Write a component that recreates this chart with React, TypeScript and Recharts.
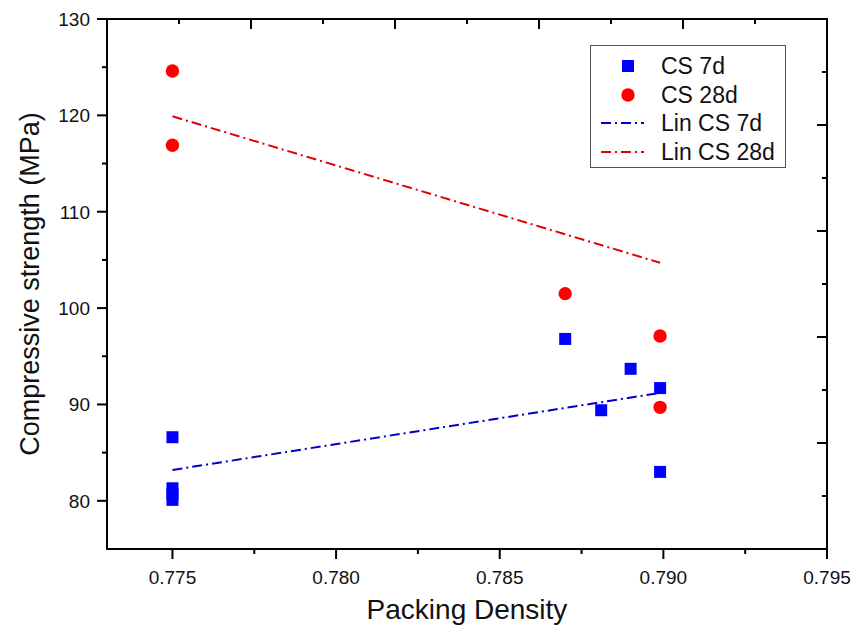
import React from 'react';
import { ComposedChart, Scatter, Line, XAxis, YAxis, ReferenceArea } from 'recharts';

const FONT = '"Liberation Sans", Arial, Helvetica, sans-serif';

// CS 7d (blue squares)
const cs7dX = [0.775, 0.775, 0.775, 0.775, 0.787, 0.7881, 0.789, 0.7899, 0.7899];
const cs7dY = [86.6, 81.3, 80.7, 80.1, 96.8, 89.4, 93.7, 91.7, 83.0];
// CS 28d (red circles)
const cs28dX = [0.775, 0.775, 0.787, 0.7899, 0.7899];
const cs28dY = [124.6, 116.9, 101.5, 97.1, 89.7];
// Linear fits
const lin7dX = [0.775, 0.7899];
const lin7dY = [83.2, 91.2];
const lin28dX = [0.775, 0.7899];
const lin28dY = [119.9, 104.7];

const seriesNames = ['CS 7d', 'CS 28d', 'Lin CS 7d', 'Lin CS 28d'];

const xDomain = [0.773, 0.795];
const yDomain = [75, 130];
const xMajorTicks = [0.775, 0.78, 0.785, 0.79, 0.795];
const xTickLabels = ['0.775', '0.780', '0.785', '0.790', '0.795'];
const xMinorTicks = [0.7775, 0.7825, 0.7875, 0.7925];
const yMajorTicks = [80, 90, 100, 110, 120, 130];
const yTickLabels = ['80', '90', '100', '110', '120', '130'];
const yMinorTicks = [85, 95, 105, 115, 125];
const topMajorTicks = [0.7774, 0.7818, 0.7862, 0.7906];
const topMinorTicks = [0.7752, 0.7796, 0.784, 0.7884, 0.7928];
const rightMajorTicks = [86, 97, 108, 119];
const rightMinorTicks = [80.5, 91.5, 102.5, 113.5, 124.5];

const toPts = (xs: number[], ys: number[]) => xs.map((x, i) => ({ x, y: ys[i] }));
const cs7d = toPts(cs7dX, cs7dY);
const cs28d = toPts(cs28dX, cs28dY);
const lin7d = toPts(lin7dX, lin7dY);
const lin28d = toPts(lin28dX, lin28dY);

const majorIndex = (arr: number[], v: number) => arr.findIndex((a) => Math.abs(a - v) < 1e-7);

const BottomTick = (p: any) => {
  const x = Number(p.x);
  const y = Number(p.y);
  const i = majorIndex(xMajorTicks, p.payload.value);
  const len = i >= 0 ? 10 : 5;
  return (
    <g>
      <path d={`M${x},${y}L${x},${y + len}`} stroke="#000" strokeWidth={2} fill="none" />
      {i >= 0 && (
        <text x={x} y={y + 35} textAnchor="middle" fontSize={19} fontFamily={FONT} fill="#111">
          {xTickLabels[i]}
        </text>
      )}
    </g>
  );
};

const LeftTick = (p: any) => {
  const x = Number(p.x);
  const y = Number(p.y);
  const i = majorIndex(yMajorTicks, p.payload.value);
  const len = i >= 0 ? 10 : 5;
  return (
    <g>
      <path d={`M${x - len},${y}L${x},${y}`} stroke="#000" strokeWidth={2} fill="none" />
      {i >= 0 && (
        <text x={x - 17} y={y + 7} textAnchor="end" fontSize={19} fontFamily={FONT} fill="#111">
          {yTickLabels[i]}
        </text>
      )}
    </g>
  );
};

// top axis (height 10): tick y is the top of the axis box; plot edge is y + 10
const TopTick = (p: any) => {
  const x = Number(p.x);
  const y = Number(p.y);
  const len = majorIndex(topMajorTicks, p.payload.value) >= 0 ? 10 : 5;
  return (
    <g>
      <path d={`M${x},${y}L${x},${y + len}`} stroke="#000" strokeWidth={2} fill="none" />
    </g>
  );
};

const RightTick = (p: any) => {
  const x = Number(p.x);
  const y = Number(p.y);
  const len = majorIndex(rightMajorTicks, p.payload.value) >= 0 ? 10 : 5;
  return (
    <g>
      <path d={`M${x - len},${y}L${x},${y}`} stroke="#000" strokeWidth={2} fill="none" />
    </g>
  );
};

const Square = (p: any) => {
  const { cx, cy } = p;
  if (cx == null || cy == null) return <g />;
  return <rect x={cx - 6} y={cy - 6} width={12} height={12} fill="#0000FF" />;
};

const Dot = (p: any) => {
  const { cx, cy } = p;
  if (cx == null || cy == null) return <g />;
  return <circle cx={cx} cy={cy} r={6.7} fill="#FF0000" />;
};

const XTitle = (p: any) => {
  const vb = p.viewBox || {};
  return (
    <text x={vb.x + vb.width / 2} y={619} textAnchor="middle" fontSize={28} fontFamily={FONT} fill="#111">
      Packing Density
    </text>
  );
};

const YTitle = (p: any) => {
  const vb = p.viewBox || {};
  const cy = vb.y + vb.height / 2;
  return (
    <text transform={`translate(39, ${cy}) rotate(-90)`} textAnchor="middle" fontSize={27} fontFamily={FONT} fill="#111">
      Compressive strength (MPa)
    </text>
  );
};

const LegendBox = () => {
  const rowH = 28.5;
  const rows = [
    { kind: 'square', color: '#0000FF' },
    { kind: 'circle', color: '#FF0000' },
    { kind: 'line', color: '#0000CC' },
    { kind: 'line', color: '#E00000' },
  ];
  return (
    <div
      style={{
        position: 'absolute',
        left: 590,
        top: 45,
        width: 196,
        height: 123,
        border: '1px solid #555',
        background: '#fff',
        boxSizing: 'border-box',
      }}
    >
      {rows.map((r, i) => (
        <div key={i} style={{ position: 'absolute', left: 0, top: 20 + i * rowH - 14, height: 28, width: 195 }}>
          <svg width={60} height={28} style={{ position: 'absolute', left: 0, top: 0 }}>
            {r.kind === 'square' && <rect x={31} y={8} width={12} height={12} fill={r.color} />}
            {r.kind === 'circle' && <circle cx={37} cy={14} r={6.7} fill={r.color} />}
            {r.kind === 'line' && (
              <line x1={10} x2={53} y1={14} y2={14} stroke={r.color} strokeWidth={2} strokeDasharray="10 4 2 4" />
            )}
          </svg>
          <span
            style={{
              position: 'absolute',
              left: 70,
              top: 0,
              lineHeight: '28px',
              fontSize: 23,
              fontFamily: FONT,
              color: '#111',
              whiteSpace: 'nowrap',
            }}
          >
            {seriesNames[i]}
          </span>
        </div>
      ))}
    </div>
  );
};

export default function App() {
  return (
    <div style={{ position: 'absolute', left: 0, top: 0, width: 853, height: 629, background: '#fff' }}>
      <ComposedChart width={853} height={629} margin={{ top: 9, right: 16, bottom: 20, left: 27 }}>
        <XAxis
          xAxisId="b"
          dataKey="x"
          type="number"
          domain={xDomain}
          allowDataOverflow
          ticks={[...xMajorTicks, ...xMinorTicks].sort((a, b) => a - b)}
          interval={0}
          tickSize={0}
          tickMargin={0}
          tickLine={false}
          tick={(p: any) => <BottomTick {...p} />}
          axisLine={{ stroke: '#000', strokeWidth: 2 }}
          height={60}
          label={(p: any) => <XTitle {...p} />}
        />
        <XAxis
          xAxisId="t"
          orientation="top"
          dataKey="x"
          type="number"
          domain={xDomain}
          allowDataOverflow
          ticks={[...topMajorTicks, ...topMinorTicks].sort((a, b) => a - b)}
          interval={0}
          tickSize={0}
          tickMargin={0}
          tickLine={false}
          tick={(p: any) => <TopTick {...p} />}
          axisLine={{ stroke: '#000', strokeWidth: 2 }}
          height={10}
        />
        <YAxis
          yAxisId="l"
          dataKey="y"
          type="number"
          domain={yDomain}
          allowDataOverflow
          ticks={[...yMajorTicks, ...yMinorTicks].sort((a, b) => a - b)}
          interval={0}
          tickSize={0}
          tickMargin={0}
          tickLine={false}
          tick={(p: any) => <LeftTick {...p} />}
          axisLine={{ stroke: '#000', strokeWidth: 2 }}
          width={80}
          label={(p: any) => <YTitle {...p} />}
        />
        <YAxis
          yAxisId="r"
          orientation="right"
          dataKey="y"
          type="number"
          domain={yDomain}
          allowDataOverflow
          ticks={[...rightMajorTicks, ...rightMinorTicks].sort((a, b) => a - b)}
          interval={0}
          tickSize={0}
          tickMargin={0}
          tickLine={false}
          tick={(p: any) => <RightTick {...p} />}
          axisLine={{ stroke: '#000', strokeWidth: 2 }}
          width={10}
        />
        <ReferenceArea
          xAxisId="b"
          yAxisId="l"
          x1={xDomain[0]}
          x2={xDomain[1]}
          y1={yDomain[0]}
          y2={yDomain[1]}
          fill="none"
          fillOpacity={0}
          stroke="#000"
          strokeWidth={2}
          ifOverflow="visible"
        />
        <Line
          xAxisId="b"
          yAxisId="l"
          data={lin7d}
          dataKey="y"
          type="linear"
          stroke="#0000CC"
          strokeWidth={2}
          strokeDasharray="10 4 2 4"
          dot={false}
          activeDot={false}
          isAnimationActive={false}
          name={seriesNames[2]}
        />
        <Line
          xAxisId="b"
          yAxisId="l"
          data={lin28d}
          dataKey="y"
          type="linear"
          stroke="#E00000"
          strokeWidth={2}
          strokeDasharray="10 4 2 4"
          dot={false}
          activeDot={false}
          isAnimationActive={false}
          name={seriesNames[3]}
        />
        <Scatter
          xAxisId="b"
          yAxisId="l"
          data={cs7d}
          dataKey="y"
          fill="#0000FF"
          shape={(p: any) => <Square {...p} />}
          isAnimationActive={false}
          name={seriesNames[0]}
        />
        <Scatter
          xAxisId="b"
          yAxisId="l"
          data={cs28d}
          dataKey="y"
          fill="#FF0000"
          shape={(p: any) => <Dot {...p} />}
          isAnimationActive={false}
          name={seriesNames[1]}
        />
      </ComposedChart>
      <LegendBox />
    </div>
  );
}
